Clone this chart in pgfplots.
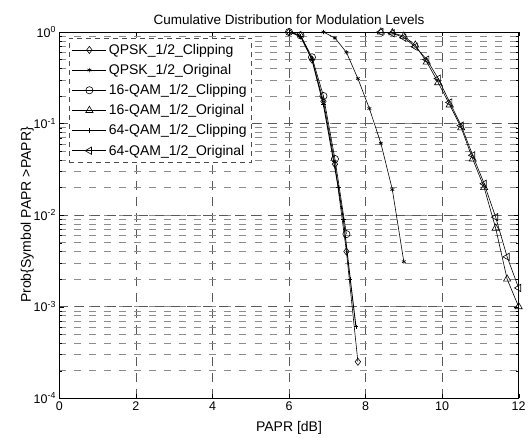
\documentclass[border=0pt]{standalone}
\usepackage{fontspec}
\setmainfont{Liberation Sans}
\usepackage{pgfplots}
\pgfplotsset{compat=1.18}

\begin{document}
\begin{tikzpicture}
  \begin{axis}[
    scale only axis,
    width=459pt, height=366pt,
    ymode=log,
    xmin=0, xmax=12,
    ymin=1e-4, ymax=1,
    xtick={0,2,...,12},
    ytick={1e-4,1e-3,1e-2,1e-1,1},
    yticklabels={10\textsuperscript{-4},10\textsuperscript{-3},10\textsuperscript{-2},10\textsuperscript{-1},10\textsuperscript{0}},
    /pgf/number format/assume math mode=true,
    ticklabel style={font=\fontsize{12.5}{14}\selectfont},
    xlabel={PAPR [dB]},
    ylabel={Prob\{Symbol PAPR >PAPR\}},
    label style={font=\fontsize{14}{16}\selectfont},
    title={Cumulative Distribution for Modulation Levels},
    title style={font=\fontsize{13.5}{15}\selectfont, yshift=-2pt},
    xlabel style={yshift=-4pt},
    ylabel style={yshift=-7pt},
    grid=both,
    major grid style={black!65, dash pattern=on 9pt off 7pt, line width=0.6pt},
    minor grid style={black!45, dash pattern=on 7pt off 8pt, line width=0.5pt},
    minor x tick num=0,
    axis line style={black, line width=0.6pt},
    tick style={black},
    legend style={
      at={(0.02,0.984)}, anchor=north west,
      font=\fontsize{14}{16}\selectfont,
      draw=black!70, dash pattern=on 5pt off 4pt, line width=0.5pt,
      row sep=4.5pt, inner xsep=3pt, inner ysep=4pt,
      cells={anchor=west},
    },
    legend image code/.code={
      \draw[mark repeat=2, mark phase=2, #1]
        plot coordinates {(0cm,0cm) (0.6cm,0cm) (1.2cm,0cm)};
    },
    legend image post style={solid},
    every axis plot/.append style={black, line width=0.6pt, mark size=3.6pt, mark options={solid, fill=none}},
  ]
  % QPSK clipping
  \addplot[mark=diamond] coordinates {
    (6.0,1.0) (6.3,0.92) (6.6,0.50) (6.9,0.175) (7.2,0.036) (7.5,0.004) (7.8,2.5e-4)
  };
  % QPSK original
  \addplot[mark=asterisk, mark size=2.2pt] coordinates {
    (6.9,1.0) (7.2,0.86) (7.5,0.60) (7.8,0.31) (8.1,0.146) (8.4,0.061) (8.7,0.019) (9.0,0.0031)
  };
  % 16-QAM clipping
  \addplot[mark=o] coordinates {
    (6.0,1.0) (6.3,0.92) (6.6,0.53) (6.9,0.20) (7.2,0.041) (7.5,0.0062)
  };
  % 16-QAM original
  \addplot[mark=triangle, mark size=4.2pt] coordinates {
    (8.4,1.0) (8.7,0.98) (9.0,0.90) (9.3,0.72) (9.6,0.47) (9.9,0.28) (10.2,0.16)
    (10.5,0.090) (10.8,0.041) (11.1,0.020) (11.4,0.0072) (11.7,0.0020) (12.0,0.0010)
  };
  % 64-QAM clipping
  \addplot[mark=+, mark size=2.2pt, line width=0.9pt] coordinates {
    (6.0,1.0) (6.3,0.90) (6.6,0.50) (6.9,0.16) (7.29,0.020) (7.42,0.009) (7.6,0.002) (7.75,6e-4)
  };
  % 64-QAM original
  \addplot[mark=triangle, mark size=4.2pt, mark options={rotate=90}] coordinates {
    (8.4,1.0) (8.7,0.97) (9.0,0.87) (9.3,0.69) (9.6,0.50) (9.9,0.31) (10.2,0.17)
    (10.5,0.095) (10.8,0.045) (11.1,0.022) (11.4,0.0095) (11.7,0.0035) (12.0,0.0016)
  };
  \legend{QPSK\_1/2\_Clipping, QPSK\_1/2\_Original, 16-QAM\_1/2\_Clipping,
    16-QAM\_1/2\_Original, 64-QAM\_1/2\_Clipping, 64-QAM\_1/2\_Original}
  \end{axis}
  \path (current axis.south west) ++(-59.4pt,-36pt) coordinate (bl);
  \path (current axis.north east) ++(10.4pt,32pt) coordinate (tr);
  \path (bl) rectangle (tr);
\end{tikzpicture}
\end{document}
